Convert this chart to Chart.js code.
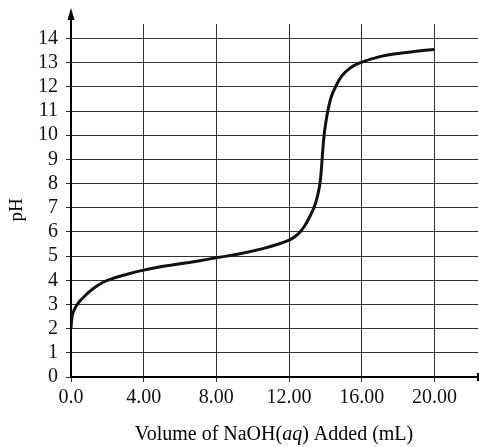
<!DOCTYPE html>
<html>
<head>
<meta charset="utf-8">
<script src="https://cdn.jsdelivr.net/npm/chart.js@4"></script>
<style>
  html, body { margin: 0; padding: 0; background: #fff; }
  #wrap { width: 479px; height: 447px; position: relative; }
</style>
</head>
<body>
<div id="wrap"><canvas id="titration"></canvas></div>
<script>
// titration curve
const volumeMl = [0, 0.05, 0.13, 0.3, 0.5, 0.8, 1.05, 1.4, 1.77, 2.2, 3.0, 3.87, 5.0, 6.0, 7.0, 8.0,
  9.3, 10.5, 11.3, 12.0, 12.35, 12.64, 12.9, 13.15, 13.37, 13.52, 13.63, 13.71, 13.77, 13.82, 13.87,
  13.93, 14.02, 14.15, 14.33, 14.56, 14.9, 15.4, 15.93, 17.0, 18.0, 19.0, 20.0];
const phValues = [2.0, 2.45, 2.7, 2.95, 3.15, 3.38, 3.55, 3.75, 3.92, 4.05, 4.23, 4.4, 4.57, 4.68, 4.8, 4.93,
  5.1, 5.3, 5.47, 5.66, 5.82, 6.03, 6.3, 6.65, 7.0, 7.35, 7.7, 8.05, 8.5, 9.0, 9.5,
  10.0, 10.5, 11.06, 11.6, 12.0, 12.45, 12.8, 13.0, 13.25, 13.38, 13.47, 13.55];

const xTickValues = [0, 4, 8, 12, 16, 20];
const xTickLabels = ['0.0', '4.00', '8.00', '12.00', '16.00', '20.00'];
const yTickValues = [0, 1, 2, 3, 4, 5, 6, 7, 8, 9, 10, 11, 12, 13, 14];

const serif = '"Liberation Serif", "DejaVu Serif", serif';

// arrows on the axes and the axis titles
const axisExtras = {
  id: 'axisExtras',
  afterDraw(chart) {
    const ctx = chart.ctx;
    const a = chart.chartArea;
    ctx.save();
    ctx.strokeStyle = '#000';
    ctx.fillStyle = '#000';
    ctx.lineWidth = 2;
    // y axis up to the arrow
    ctx.beginPath();
    ctx.moveTo(a.left, a.top);
    ctx.lineTo(a.left, 14);
    ctx.stroke();
    ctx.beginPath();
    ctx.moveTo(a.left, 8);
    ctx.lineTo(a.left - 3.5, 20);
    ctx.lineTo(a.left + 3.5, 20);
    ctx.closePath();
    ctx.fill();
    // end of x axis
    ctx.beginPath();
    ctx.moveTo(a.right, a.bottom - 4);
    ctx.lineTo(a.right, a.bottom + 4);
    ctx.stroke();

    // y title
    ctx.font = '19px ' + serif;
    ctx.textAlign = 'center';
    ctx.textBaseline = 'middle';
    ctx.translate(17, 210);
    ctx.rotate(-Math.PI / 2);
    ctx.fillText('pH', 0, 0);
    ctx.setTransform(1, 0, 0, 1, 0, 0);

    // x title, with italic aq
    const parts = [
      ['Volume of NaOH(', '20px ' + serif],
      ['aq', 'italic 20px ' + serif],
      [') Added (mL)', '20px ' + serif]
    ];
    let total = 0;
    parts.forEach(p => { ctx.font = p[1]; total += ctx.measureText(p[0]).width; });
    let x = 274 - total / 2;
    ctx.textAlign = 'left';
    ctx.textBaseline = 'alphabetic';
    parts.forEach(p => {
      ctx.font = p[1];
      ctx.fillText(p[0], x, 440);
      x += ctx.measureText(p[0]).width;
    });
    ctx.restore();
  }
};

new Chart(document.getElementById('titration'), {
  type: 'line',
  data: {
    datasets: [{
      data: volumeMl.map((v, i) => ({ x: v, y: phValues[i] })),
      borderColor: '#111',
      borderWidth: 3,
      pointRadius: 0,
      tension: 0.4,
      fill: false
    }]
  },
  options: {
    responsive: true,
    maintainAspectRatio: false,
    animation: false,
    layout: { padding: { top: 24, right: 1, left: 0, bottom: 0 } },
    plugins: { legend: { display: false }, tooltip: { enabled: false } },
    scales: {
      x: {
        type: 'linear',
        min: 0,
        max: 22.4,
        afterBuildTicks: scale => { scale.ticks = xTickValues.map(v => ({ value: v })); },
        afterFit: scale => { scale.height = 70; },
        grid: { color: 'rgba(0,0,0,0.8)', lineWidth: 1, tickLength: 5 },
        border: { display: true, color: '#000', width: 2 },
        ticks: {
          autoSkip: false,
          maxRotation: 0,
          padding: 4,
          color: '#111',
          font: { family: serif, size: 20 },
          callback: (v, i) => xTickLabels[i]
        }
      },
      y: {
        min: 0,
        max: 14.6,
        afterBuildTicks: scale => { scale.ticks = yTickValues.map(v => ({ value: v })); },
        afterFit: scale => { scale.width = 71; },
        grid: { color: 'rgba(0,0,0,0.8)', lineWidth: 1, tickLength: 5 },
        border: { display: true, color: '#000', width: 2 },
        ticks: {
          autoSkip: false,
          padding: 8,
          color: '#111',
          font: { family: serif, size: 20 },
          callback: v => String(v)
        }
      }
    }
  },
  plugins: [axisExtras]
});
</script>
</body>
</html>
